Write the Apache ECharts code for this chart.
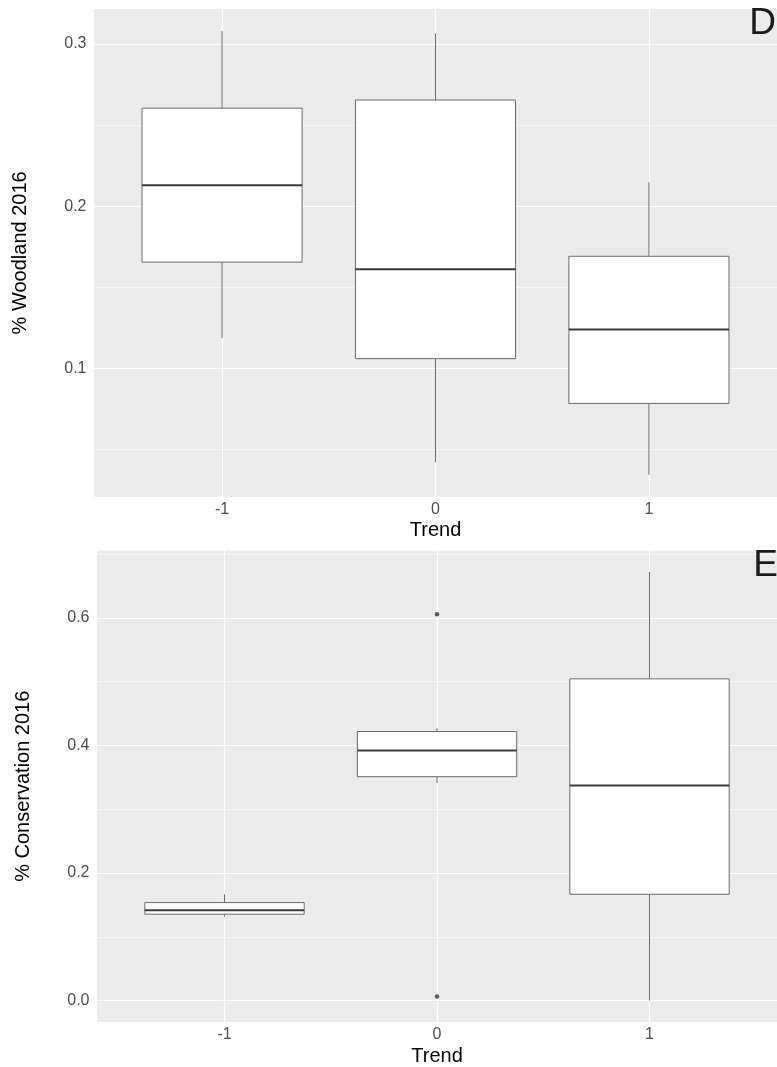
<!DOCTYPE html>
<html><head><meta charset="utf-8">
<script src="https://cdn.jsdelivr.net/npm/echarts@6/dist/echarts.min.js"></script>
<style>html,body{margin:0;padding:0;background:#fff}#c{width:777px;height:1067px}</style>
</head><body><div id="c"></div>
<script>
// ---- data ----
const trendLabels = ['-1', '0', '1'];
const trendPos = [-1, 0, 1];

// Panel D: % Woodland 2016
const woodLow  = [0.1188, 0.0423, 0.0345];
const woodQ1   = [0.1656, 0.1061, 0.0785];
const woodMed  = [0.2130, 0.1612, 0.1240];
const woodQ3   = [0.2605, 0.2655, 0.1692];
const woodHigh = [0.3080, 0.3065, 0.2149];
const woodTicks = [0.1, 0.2, 0.3];
const woodMinor = [0.05, 0.15, 0.25];
const woodRange = [0.021, 0.3216];

// Panel E: % Conservation 2016
const consLow  = [0.1313, 0.341, 0.0];
const consQ1   = [0.1354, 0.351, 0.1667];
const consMed  = [0.1416, 0.392, 0.3372];
const consQ3   = [0.1536, 0.4218, 0.5044];
const consHigh = [0.1665, 0.427, 0.672];
const consOutX = [0, 0];
const consOutY = [0.6056, 0.0064];
const consTicks = [0.0, 0.2, 0.4, 0.6];
const consMinor = [0.1, 0.3, 0.5, 0.7];
const consRange = [-0.0336, 0.7056];

const xRange = [-1.6, 1.6];
// ---- chart ----
const FONT = "'Liberation Sans', Arial, sans-serif";
const boxRows = (lo, q1, md, q3, hi) => trendPos.map((p, i) => [p, lo[i], q1[i], md[i], q3[i], hi[i]]);

function boxRender(params, api) {
  const x = api.value(0);
  const pLo = api.coord([x, api.value(1)]);
  const pQ1 = api.coord([x, api.value(2)]);
  const pMd = api.coord([x, api.value(3)]);
  const pQ3 = api.coord([x, api.value(4)]);
  const pHi = api.coord([x, api.value(5)]);
  const hw = api.size([0.75, 0])[0] / 2;
  const cx = pLo[0];
  const stroke = '#6a6a6a';
  return {
    type: 'group',
    children: [
      { type: 'line', shape: { x1: cx, y1: pHi[1], x2: cx, y2: pQ3[1] }, style: { stroke, lineWidth: 1 } },
      { type: 'line', shape: { x1: cx, y1: pQ1[1], x2: cx, y2: pLo[1] }, style: { stroke, lineWidth: 1 } },
      { type: 'rect', shape: { x: cx - hw, y: pQ3[1], width: 2 * hw, height: pQ1[1] - pQ3[1] }, style: { fill: '#ffffff', stroke, lineWidth: 1 } },
      { type: 'line', shape: { x1: cx - hw, y1: pMd[1], x2: cx + hw, y2: pMd[1] }, style: { stroke: '#3a3a3a', lineWidth: 2 } }
    ]
  };
}

function xAxisDef(gridIndex) {
  return {
    type: 'value', gridIndex, min: xRange[0], max: xRange[1],
    name: 'Trend', nameLocation: 'middle', nameGap: 24,
    nameTextStyle: { fontFamily: FONT, fontSize: 20, color: '#000' },
    axisLine: { show: false },
    axisTick: { show: false, customValues: trendPos },
    axisLabel: { customValues: trendPos, margin: 5, fontFamily: FONT, fontSize: 16, color: '#4d4d4d',
      formatter: v => trendLabels[trendPos.indexOf(Math.round(v))] },
    splitLine: { show: true, lineStyle: { color: '#ffffff', width: 1.2 } }
  };
}
function yMajor(gridIndex, range, ticks, name) {
  return {
    type: 'value', gridIndex, min: range[0], max: range[1],
    name, nameLocation: 'middle', nameGap: 64, nameRotate: 90,
    nameTextStyle: { fontFamily: FONT, fontSize: 20, color: '#000' },
    axisLine: { show: false },
    axisTick: { show: false, customValues: ticks },
    axisLabel: { customValues: ticks, margin: 7.5, fontFamily: FONT, fontSize: 16, color: '#4d4d4d',
      formatter: v => v.toFixed(1) },
    splitLine: { show: true, lineStyle: { color: '#ffffff', width: 1.2 } }
  };
}
function yMinor(gridIndex, range, ticks) {
  return {
    type: 'value', gridIndex, min: range[0], max: range[1],
    axisLine: { show: false },
    axisTick: { show: false, customValues: ticks },
    axisLabel: { show: false },
    splitLine: { show: true, lineStyle: { color: '#fafafa', width: 0.7 } }
  };
}

const chart = echarts.init(document.getElementById('c'), null, { renderer: 'canvas' });
chart.setOption({
  animation: false,
  backgroundColor: '#ffffff',
  grid: [
    { left: 94, top: 9, width: 688, height: 487.7, show: true, backgroundColor: '#ebebeb', borderWidth: 0 },
    { left: 97, top: 550.5, width: 682, height: 473.7, show: true, backgroundColor: '#ebebeb', borderWidth: 0 }
  ],
  xAxis: [xAxisDef(0), xAxisDef(1)],
  yAxis: [
    yMajor(0, woodRange, woodTicks, '% Woodland 2016'),
    yMinor(0, woodRange, woodMinor),
    yMajor(1, consRange, consTicks, '% Conservation 2016'),
    yMinor(1, consRange, consMinor)
  ],
  graphic: [
    { type: 'text', x: 776, y: 5, style: { text: 'D', font: '37px ' + FONT, fill: '#1a1a1a', align: 'right', verticalAlign: 'top' }, z: 100 },
    { type: 'text', x: 778, y: 547, style: { text: 'E', font: '37px ' + FONT, fill: '#1a1a1a', align: 'right', verticalAlign: 'top' }, z: 100 }
  ],
  series: [
    { type: 'custom', xAxisIndex: 0, yAxisIndex: 0, renderItem: boxRender,
      encode: { x: 0, y: [1, 2, 3, 4, 5] },
      data: boxRows(woodLow, woodQ1, woodMed, woodQ3, woodHigh) },
    { type: 'custom', xAxisIndex: 1, yAxisIndex: 2, renderItem: boxRender,
      encode: { x: 0, y: [1, 2, 3, 4, 5] },
      data: boxRows(consLow, consQ1, consMed, consQ3, consHigh) },
    { type: 'scatter', xAxisIndex: 1, yAxisIndex: 2, symbol: 'circle', symbolSize: 4.5,
      itemStyle: { color: '#333333' }, z: 5,
      data: consOutX.map((x, i) => [x, consOutY[i]]) }
  ]
});
</script>
</body></html>
